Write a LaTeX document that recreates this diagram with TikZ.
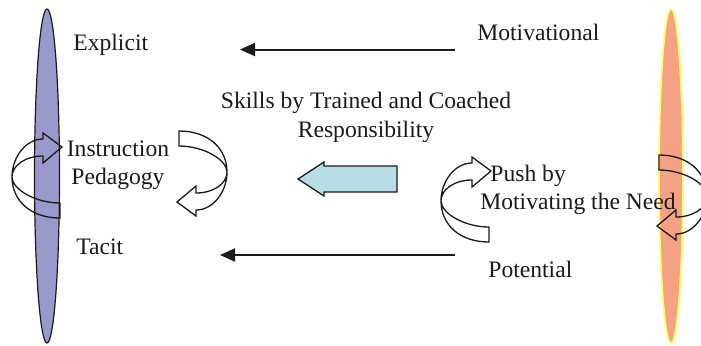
\documentclass[tikz,border=0pt]{standalone}
\usepackage{fontspec}
\setmainfont{Liberation Serif}
\usetikzlibrary{arrows.meta}
\definecolor{tkblue}{HTML}{9999CC}
\definecolor{tksalmon}{HTML}{F5A183}
\definecolor{tkyellow}{HTML}{FFFF66}
\definecolor{tkcyan}{HTML}{B7DEE4}
\definecolor{tkink}{HTML}{1A1A1A}

% the open loop arrow that turns round a pole; origin at its turning point
\tikzset{
  loop arrow/.pic={
    \draw[turn] (0,0) .. controls (0,-20) and (14,-38) .. (31,-38) -- (31,-44)
      -- (50,-30) -- (31,-14) -- (31,-21) .. controls (14,-21) and (0,-12) .. (0,0)
      .. controls (0,12) and (23,26) .. (48,26) -- (48,41)
      .. controls (18,41) and (0,23) .. cycle;
  }
}

\begin{document}
\begin{tikzpicture}[
  x=0.5pt, y=-0.5pt,
  font=\fontsize{11.8pt}{14.2pt}\selectfont,
  word/.style={inner sep=0pt, text=tkink},
  flow/.style={-{Triangle[length=7.5pt,width=6.5pt]}, line width=1pt, draw=tkink},
  turn/.style={draw=tkink, line width=0.65pt, line join=miter},
  pole/.style={line width=0.6pt}
]
\clip (0,0) rectangle (701,345);

% the two poles
\draw[pole, draw=tkink, fill=tkblue] (47,176) ellipse [x radius=12.5, y radius=167];
\draw[pole, draw=tkyellow, fill=tksalmon, line width=0.9pt] (671,176) ellipse [x radius=12, y radius=167];

% labels
\node[word, anchor=base west] (explicit) at (73,50) {Explicit};
\node[word, anchor=base west] (motiv) at (477,40) {Motivational};
\node[word, align=center] (skills) at (366,117.5) {Skills by Trained and Coached\\Responsibility};
\node[word, align=center] (instr) at (118,165.5) {Instruction\\Pedagogy};
\node[word, anchor=base west] (tacit) at (76,254) {Tacit};
\node[word, align=left, anchor=west] (push) at (480,190) {\hspace*{5pt}Push by\\Motivating the Need};
\node[word, anchor=base west] (potent) at (488,277) {Potential};

% straight arrows
\coordinate (topR) at (455,49.5);
\coordinate (topL) at (240,49.5);
\coordinate (lowR) at (455,255);
\coordinate (lowL) at (220,255);
\draw[flow] (topR) -- (topL);
\draw[flow] (lowR) -- (lowL);

% block arrow in the middle
\draw[draw=tkink, line width=0.65pt, fill=tkcyan] (298,179) -- (324,162) -- (324,166)
  -- (397,166) -- (397,192) -- (324,192) -- (324,196) -- cycle;

% loop arrows
\pic at (12,177) {loop arrow};
\pic[rotate=180] at (227,172) {loop arrow};
\pic at (441,201) {loop arrow};
\pic[rotate=180] at (707,196) {loop arrow};
\end{tikzpicture}
\end{document}
